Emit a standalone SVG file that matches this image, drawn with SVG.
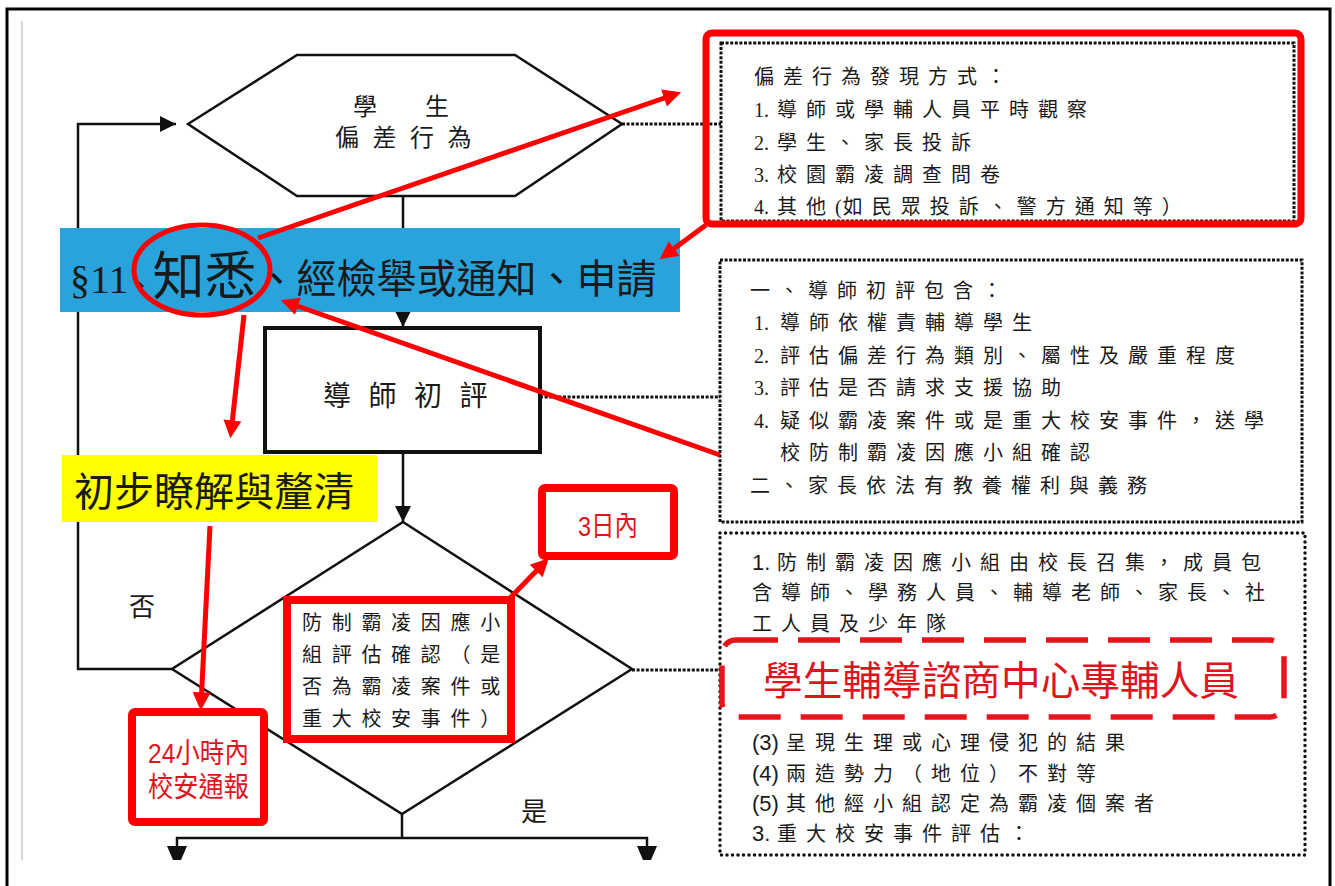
<svg xmlns="http://www.w3.org/2000/svg" width="1335" height="886" viewBox="0 0 1335 886">
<defs>
<style>
.t{font-family:"Liberation Serif","Noto Sans CJK TC",serif;fill:#1a1a1a}
.s{font-family:"Liberation Sans","Noto Sans CJK TC",sans-serif;fill:#1a1a1a}
.bx{font-size:20px;letter-spacing:9px}
.num{font-size:20px;letter-spacing:0}
.bk{fill:none;stroke:#111;stroke-width:2.5}
.rl{fill:none;stroke:#ff0000;stroke-width:5}
.dot{fill:none;stroke:#111;stroke-width:3;stroke-dasharray:3 1.6}
.rd{font-family:"Liberation Sans","Noto Sans CJK TC",sans-serif;fill:#e0141c}
</style>
<marker id="ra" viewBox="0 0 10 10" refX="7" refY="5" markerWidth="22" markerHeight="18" markerUnits="userSpaceOnUse" orient="auto"><path d="M0,0L10,5L0,10z" fill="#ff0000"/></marker>
<marker id="ba" viewBox="0 0 10 10" refX="10" refY="5" markerWidth="18" markerHeight="16" markerUnits="userSpaceOnUse" orient="auto"><path d="M0,0L10,5L0,10z" fill="#111"/></marker>
</defs>
<rect width="1335" height="886" fill="#fff"/>
<path d="M7,886V9H1330V886" fill="none" stroke="#000" stroke-width="3"/>
<line x1="22" y1="21" x2="22" y2="860" stroke="#d6d6d6" stroke-width="2"/>

<g id="connectors">
<polyline class="bk" points="172,669 78,669 78,124 176,124" marker-end="url(#ba)"/>
<line class="bk" x1="403" y1="196" x2="403" y2="228"/>
<line class="bk" x1="403" y1="312" x2="403" y2="327" marker-end="url(#ba)"/>
<line class="bk" x1="403" y1="452" x2="403" y2="522" marker-end="url(#ba)"/>
<polyline class="bk" points="402,814 402,838"/>
<polyline class="bk" points="177,846 177,838 647,838 647,846"/>
<polygon points="167,846 187,846 181,860 173,860" fill="#111"/>
<polygon points="637,846 657,846 651,860 643,860" fill="#111"/>
<line class="dot" x1="622" y1="124" x2="721" y2="124"/>
<line class="dot" x1="540" y1="397" x2="720" y2="397"/>
<line class="dot" x1="632" y1="670" x2="720" y2="670"/>
</g>

<g id="hexagon">
<polygon class="bk" points="188,124 297,55 515,55 622,124 515,196 297,196" fill="#fff"/>
<text class="t" x="353" y="115" font-size="24">學</text>
<text class="t" x="425" y="115" font-size="24">生</text>
<text class="t" x="335" y="146" font-size="24" letter-spacing="13.5">偏差行為</text>
</g>

<g id="rect-tutor">
<rect x="265" y="328" width="275" height="124" fill="#fff" stroke="#111" stroke-width="4"/>
<text class="t" x="323" y="406" font-size="28" letter-spacing="17.5">導師初評</text>
</g>

<g id="diamond">
<polygon class="bk" points="403,522 632,669 402,814 172,669" fill="#fff"/>
<text class="t" x="129" y="616" font-size="26">否</text>
<text class="t" x="521" y="821" font-size="26">是</text>
</g>

<g id="diamond-box">
<rect x="287" y="600" width="224" height="139" fill="#fff" stroke="#ff0000" stroke-width="8"/>
<text class="t" x="302" font-size="20" letter-spacing="9.7"><tspan x="302" y="630">防制霸凌因應小</tspan><tspan x="302" y="662">組評估確認（是</tspan><tspan x="302" y="694">否為霸凌案件或</tspan><tspan x="302" y="726">重大校安事件）</tspan></text>
</g>

<g id="blue-bar">
<rect x="60" y="228" width="620" height="84" fill="#29a3dc"/>
<text class="t" x="70" y="293" font-size="40">§11<tspan font-size="24">、</tspan><tspan font-size="52" dy="2">知悉</tspan><tspan dy="-2">、經檢舉或通知、申請</tspan></text>
</g>

<g id="yellow-box">
<rect x="62" y="455" width="315" height="67" fill="#ffff00"/>
<text class="t" x="74" y="506" font-size="40" textLength="280" lengthAdjust="spacingAndGlyphs">初步瞭解與釐清</text>
</g>

<g id="box-24h">
<rect x="132" y="712" width="132" height="110" fill="#fff" stroke="#ff0000" stroke-width="8" rx="3"/>
<text class="rd" x="148" y="763" font-size="28" textLength="101" lengthAdjust="spacingAndGlyphs">24小時內</text>
<text class="rd" x="148" y="797" font-size="28" textLength="101" lengthAdjust="spacingAndGlyphs">校安通報</text>
</g>

<g id="box-3days">
<rect x="542" y="488" width="132" height="68" fill="#fff" stroke="#ff0000" stroke-width="8" rx="3"/>
<text class="rd" x="578" y="536" font-size="28" textLength="60" lengthAdjust="spacingAndGlyphs">3日內</text>
</g>

<g id="box-discovery">
<rect x="721" y="43" width="573" height="178" class="dot"/>
<rect x="706" y="33" width="595" height="191" rx="6" fill="none" stroke="#ff0000" stroke-width="7"/>
<text class="t bx" x="754" y="84">偏差行為發現方式：</text>
<text class="t num" x="754" y="117">1.</text><text class="t bx" x="777" y="117">導師或學輔人員平時觀察</text>
<text class="t num" x="754" y="150">2.</text><text class="t bx" x="777" y="150">學生、家長投訴</text>
<text class="t num" x="754" y="182">3.</text><text class="t bx" x="777" y="182">校園霸凌調查問卷</text>
<text class="t num" x="754" y="214">4.</text><text class="t bx" x="777" y="214">其他<tspan letter-spacing="1">(</tspan>如民眾投訴、警方通知等）</text>
</g>

<g id="box-tutor-detail">
<rect x="720" y="260" width="582" height="262" class="dot"/>
<text class="t bx" x="750" y="298">一、導師初評包含：</text>
<text class="t num" x="754" y="330">1.</text><text class="t bx" x="780" y="330">導師依權責輔導學生</text>
<text class="t num" x="754" y="363">2.</text><text class="t bx" x="780" y="363">評估偏差行為類別、屬性及嚴重程度</text>
<text class="t num" x="754" y="395">3.</text><text class="t bx" x="780" y="395">評估是否請求支援協助</text>
<text class="t num" x="754" y="428">4.</text><text class="t bx" x="780" y="428">疑似霸凌案件或是重大校安事件，送學</text>
<text class="t bx" x="780" y="460">校防制霸凌因應小組確認</text>
<text class="t bx" x="750" y="493">二、家長依法有教養權利與義務</text>
</g>

<g id="box-committee">
<rect x="720" y="533" width="585" height="322" fill="none" stroke="#111" stroke-width="3.5" stroke-dasharray="0 5.5" stroke-linecap="round"/>
<text class="s" x="752" y="570" font-size="22">1.</text><text class="t bx" x="777" y="570" letter-spacing="9.7">防制霸凌因應小組由校長召集，成員包</text>
<text class="t bx" x="752" y="600" letter-spacing="9.6">含導師、學務人員、輔導老師、家長、社</text>
<text class="t bx" x="752" y="631" letter-spacing="9.6">工人員及少年隊</text>
<text class="s" x="752" y="750" font-size="22">(3)</text><text class="t bx" x="786" y="750" letter-spacing="9.6">呈現生理或心理侵犯的結果</text>
<text class="s" x="752" y="781" font-size="22">(4)</text><text class="t bx" x="786" y="781" letter-spacing="9.6">兩造勢力（地位）不對等</text>
<text class="s" x="752" y="811" font-size="22">(5)</text><text class="t bx" x="786" y="811" letter-spacing="9.6">其他經小組認定為霸凌個案者</text>
<text class="s" x="752" y="841" font-size="22">3.</text><text class="t bx" x="777" y="841" letter-spacing="9.6">重大校安事件評估：</text>
</g>

<g id="counselor">
<rect x="722" y="640" width="562" height="77" rx="14" fill="#fff" stroke="#e8141b" stroke-width="5.5" stroke-dasharray="42 20"/>
<text class="rd" x="763" y="695" font-size="40" textLength="476" lengthAdjust="spacingAndGlyphs">學生輔導諮商中心專輔人員</text>
</g>

<g id="red-annotations">
<ellipse cx="202" cy="270" rx="68" ry="45" fill="none" stroke="#ff0000" stroke-width="5"/>
<line class="rl" x1="258" y1="238" x2="676" y2="94" marker-end="url(#ra)"/>
<line class="rl" x1="706" y1="225" x2="664" y2="256" marker-end="url(#ra)"/>
<line class="rl" x1="720" y1="455" x2="286" y2="302" marker-end="url(#ra)"/>
<line class="rl" x1="244" y1="315" x2="231" y2="433" marker-end="url(#ra)"/>
<line class="rl" x1="210" y1="526" x2="201" y2="705" marker-end="url(#ra)"/>
<line class="rl" x1="508" y1="600" x2="545" y2="562" marker-end="url(#ra)"/>
</g>
</svg>
